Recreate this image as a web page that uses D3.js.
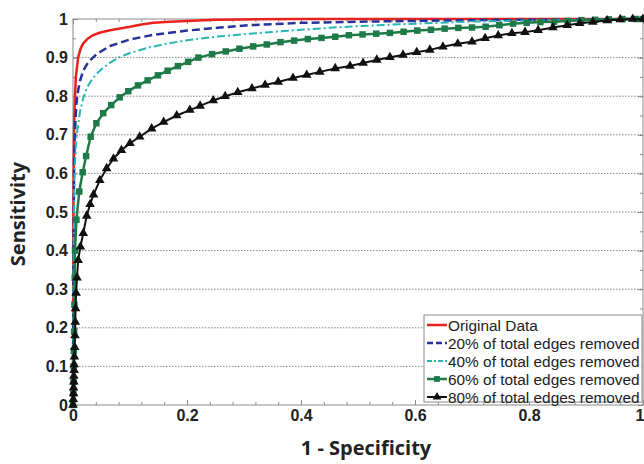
<!DOCTYPE html>
<html><head><meta charset="utf-8">
<script src="https://cdn.jsdelivr.net/npm/d3@7"></script>
<style>html,body{margin:0;padding:0;background:#fff}svg{display:block}</style>
</head><body>
<svg id="chart" width="644" height="464"></svg>
<script>
const xTicks = [0, 0.2, 0.4, 0.6, 0.8, 1];
const xTickLabels = ["0", "0.2", "0.4", "0.6", "0.8", "1"];
const yTicks = [0, 0.1, 0.2, 0.3, 0.4, 0.5, 0.6, 0.7, 0.8, 0.9, 1];
const yTickLabels = ["0", "0.1", "0.2", "0.3", "0.4", "0.5", "0.6", "0.7", "0.8", "0.9", "1"];
const seriesNames = ["Original Data", "20% of total edges removed", "40% of total edges removed", "60% of total edges removed", "80% of total edges removed"];

const original = [[0,0],[0.0003,0.2],[0.0006,0.4],[0.001,0.55],[0.0015,0.65],[0.002,0.72],[0.003,0.78],[0.005,0.85],[0.009,0.9],[0.013,0.922],[0.018,0.937],[0.025,0.948],[0.035,0.958],[0.048,0.965],[0.065,0.971],[0.08,0.975],[0.1,0.98],[0.12,0.986],[0.141,0.99],[0.17,0.993],[0.2,0.995],[0.25,0.998],[0.3,0.999],[0.4,1],[1,1]];
const removed20 = [[0,0],[0.0005,0.2],[0.001,0.4],[0.0015,0.55],[0.002,0.63],[0.003,0.693],[0.0058,0.779],[0.009,0.815],[0.0123,0.84],[0.018,0.866],[0.027,0.889],[0.042,0.91],[0.065,0.93],[0.1,0.947],[0.141,0.959],[0.2,0.97],[0.258,0.978],[0.31,0.984],[0.4,0.99],[0.5,0.993],[0.6,0.995],[0.7,0.997],[0.8,0.998],[0.9,0.999],[1,1]];
const removed40 = [[0,0],[0.0005,0.2],[0.001,0.35],[0.0018,0.5],[0.003,0.61],[0.005,0.67],[0.007,0.705],[0.0123,0.76],[0.018,0.795],[0.024,0.82],[0.03,0.836],[0.04,0.856],[0.05,0.87],[0.065,0.887],[0.08,0.9],[0.1,0.912],[0.13,0.925],[0.16,0.935],[0.2,0.945],[0.25,0.954],[0.31,0.962],[0.4,0.972],[0.456,0.978],[0.55,0.985],[0.69,0.993],[0.8,0.996],[0.9,0.998],[1,1]];
const removed60 = [[0,0],[0.0005,0.03],[0.001,0.06],[0.001,0.1],[0.0015,0.14],[0.002,0.19],[0.0025,0.26],[0.003,0.33],[0.0035,0.4],[0.006,0.48],[0.011,0.553],[0.017,0.603],[0.023,0.645],[0.031,0.695],[0.041,0.73],[0.053,0.756],[0.067,0.777],[0.082,0.797],[0.097,0.813],[0.114,0.828],[0.131,0.841],[0.149,0.854],[0.166,0.866],[0.184,0.878],[0.202,0.889],[0.22,0.9],[0.244,0.909],[0.268,0.916],[0.292,0.923],[0.316,0.929],[0.34,0.934],[0.364,0.94],[0.388,0.944],[0.412,0.948],[0.436,0.951],[0.46,0.954],[0.484,0.958],[0.508,0.96],[0.532,0.962],[0.556,0.964],[0.58,0.967],[0.604,0.97],[0.628,0.972],[0.652,0.975],[0.676,0.977],[0.7,0.978],[0.724,0.98],[0.748,0.984],[0.772,0.988],[0.796,0.99],[0.82,0.992],[0.844,0.993],[0.868,0.995],[0.892,0.997],[0.916,0.998],[0.94,0.999],[0.964,1],[0.988,1],[1,1]];
const removed80 = [[0,0],[0.0005,0.015],[0.001,0.03],[0.001,0.045],[0.0015,0.06],[0.0015,0.075],[0.002,0.09],[0.002,0.105],[0.0025,0.125],[0.003,0.15],[0.0035,0.18],[0.004,0.215],[0.0045,0.25],[0.0055,0.29],[0.007,0.33],[0.009,0.375],[0.013,0.41],[0.018,0.445],[0.024,0.49],[0.03,0.52],[0.036,0.545],[0.047,0.582],[0.059,0.613],[0.071,0.638],[0.085,0.66],[0.1,0.678],[0.117,0.695],[0.138,0.716],[0.159,0.733],[0.182,0.75],[0.205,0.764],[0.223,0.775],[0.246,0.789],[0.267,0.8],[0.289,0.81],[0.314,0.82],[0.337,0.829],[0.36,0.837],[0.386,0.847],[0.41,0.855],[0.433,0.863],[0.46,0.872],[0.486,0.878],[0.509,0.886],[0.533,0.894],[0.556,0.901],[0.579,0.907],[0.603,0.914],[0.626,0.92],[0.649,0.928],[0.675,0.936],[0.7,0.941],[0.723,0.95],[0.746,0.957],[0.77,0.963],[0.793,0.966],[0.816,0.971],[0.842,0.978],[0.867,0.984],[0.889,0.989],[0.912,0.992],[0.937,0.996],[0.96,0.999],[0.982,1],[1,1]];

const svg = d3.select("#chart");
const x = d3.scaleLinear().domain([0, 1]).range([73, 643]);
const y = d3.scaleLinear().domain([0, 1]).range([405, 19]);
const axisColor = "#8a8a8a";

// grid
svg.append("g").selectAll("line").data(yTicks.filter(v => v > 0 && v < 1)).join("line")
  .attr("x1", x(0)).attr("x2", x(1)).attr("y1", d => y(d)).attr("y2", d => y(d))
  .attr("stroke", "#888").attr("stroke-width", 1).attr("stroke-dasharray", "1.5,1.5");

// box
svg.append("rect").attr("x", x(0)).attr("y", y(1)).attr("width", x(1) - x(0)).attr("height", y(0) - y(1))
  .attr("fill", "none").attr("stroke", axisColor).attr("stroke-width", 1);

const xMinor = d3.range(0, 1.0001, 0.04);
const yMinor = d3.range(0, 1.0001, 0.05);
function tickAxis(gen, tx, ty, vals, size) {
  const g = svg.append("g").attr("transform", `translate(${tx},${ty})`)
    .call(gen.tickValues(vals).tickSize(size).tickFormat(""));
  g.select(".domain").remove();
  g.selectAll(".tick line").attr("stroke", axisColor);
}
tickAxis(d3.axisBottom(x), 0, y(0), xMinor, -3);
tickAxis(d3.axisBottom(x), 0, y(0), xTicks, -5);
tickAxis(d3.axisTop(x), 0, y(1), xMinor, -3);
tickAxis(d3.axisTop(x), 0, y(1), xTicks, -5);
tickAxis(d3.axisLeft(y), x(0), 0, yMinor, -3);
tickAxis(d3.axisLeft(y), x(0), 0, yTicks, -5);
tickAxis(d3.axisRight(y), x(1), 0, yMinor, -3);
tickAxis(d3.axisRight(y), x(1), 0, yTicks, -5);

// labels
const lblFont = "'Liberation Sans', Arial, sans-serif";
const gx = svg.append("g").attr("transform", `translate(0,${y(0)})`)
  .call(d3.axisBottom(x).tickValues(xTicks).tickSize(0).tickPadding(5).tickFormat((d, i) => xTickLabels[i]));
gx.select(".domain").remove();
gx.selectAll("text").attr("font-family", lblFont).attr("font-weight", "bold").attr("font-size", 16).attr("fill", "#222");
gx.selectAll("text").filter(d => d === 1).attr("text-anchor", "end").attr("x", 1);
const gy = svg.append("g").attr("transform", `translate(${x(0)},0)`)
  .call(d3.axisLeft(y).tickValues(yTicks).tickSize(0).tickPadding(5).tickFormat((d, i) => yTickLabels[i]));
gy.select(".domain").remove();
gy.selectAll("text").attr("font-family", lblFont).attr("font-weight", "bold").attr("font-size", 16).attr("fill", "#222");

svg.append("text").attr("x", 366).attr("y", 455).attr("text-anchor", "middle")
  .attr("font-family", "'Open Sans', sans-serif").attr("font-weight", "bold").attr("font-size", 20).attr("fill", "#222")
  .text("1 - Specificity");
svg.append("text").attr("transform", "translate(25,214) rotate(-90)").attr("text-anchor", "middle")
  .attr("font-family", "'Open Sans', sans-serif").attr("font-weight", "bold").attr("font-size", 20).attr("fill", "#222")
  .text("Sensitivity");

// series
const styles = [
  {data: original, color: "#e8231f", width: 2.5, dash: null, marker: null},
  {data: removed20, color: "#26349a", width: 2.5, dash: "8,4", marker: null},
  {data: removed40, color: "#2ab5b3", width: 2, dash: "8,3,2,3", marker: null},
  {data: removed60, color: "#1e7a48", width: 2.5, dash: null, marker: "square"},
  {data: removed80, color: "#111111", width: 2, dash: null, marker: "triangle"}
];
const line = d3.line().x(d => x(d[0])).y(d => y(d[1]));
const sym = {square: d3.symbolSquare, triangle: d3.symbolTriangle};
styles.forEach(s => {
  svg.append("path").datum(s.data).attr("d", line).attr("fill", "none")
    .attr("stroke", s.color).attr("stroke-width", s.width).attr("stroke-linejoin", "round")
    .attr("stroke-dasharray", s.dash);
  if (s.marker) {
    svg.append("g").selectAll("path").data(s.data).join("path")
      .attr("transform", d => `translate(${x(d[0])},${y(d[1])})`)
      .attr("d", d3.symbol().type(sym[s.marker]).size(s.marker === "square" ? 42 : 40))
      .attr("fill", s.color);
  }
});

// legend
const lg = svg.append("g");
lg.append("rect").attr("x", 424).attr("y", 315).attr("width", 218).attr("height", 87)
  .attr("fill", "#fff").attr("stroke", axisColor).attr("stroke-width", 1);
styles.forEach((s, i) => {
  const cy = 325 + i * 18;
  lg.append("line").attr("x1", 427).attr("x2", 447).attr("y1", cy).attr("y2", cy)
    .attr("stroke", s.color).attr("stroke-width", s.width).attr("stroke-dasharray", s.dash ? (i === 1 ? "6,3" : "5,2,2,2") : null);
  if (s.marker) {
    lg.append("path").attr("transform", `translate(437,${cy})`)
      .attr("d", d3.symbol().type(sym[s.marker]).size(34)).attr("fill", s.color);
  }
  lg.append("text").attr("x", 448).attr("y", cy + 5.5).attr("font-family", lblFont).attr("font-size", 15.4)
    .attr("fill", "#222").text(seriesNames[i]);
});
</script>
</body></html>
